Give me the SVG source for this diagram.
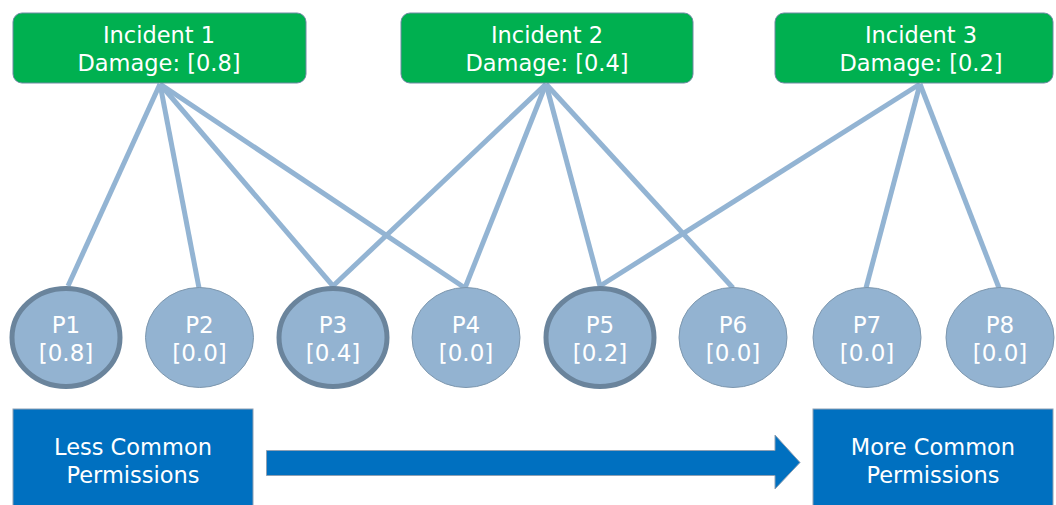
<svg xmlns="http://www.w3.org/2000/svg" width="1056" height="505" viewBox="0 0 1056 505">
<style>
.inc{fill:#00b050;stroke:#6f8aa3;stroke-width:1}
.it{font-family:"DejaVu Sans",sans-serif;font-size:22.5px;fill:#fff;text-anchor:middle}
.pt{font-family:"DejaVu Sans",sans-serif;font-size:23px;fill:#fff;text-anchor:middle}
.p{fill:#93b3d1;stroke:#7d97ae;stroke-width:1}
.pk{fill:#93b3d1;stroke:#6a849c;stroke-width:5}
.ln{stroke:#93b4d3;stroke-width:5;fill:none}
.bx{fill:#0070c0;stroke:#8ea0b4;stroke-width:1}
</style>
<rect width="1056" height="505" fill="#fff"/>
<g id="connectors">
<line class="ln" x1="160" y1="84" x2="68" y2="286"/>
<line class="ln" x1="160" y1="84" x2="199" y2="288"/>
<line class="ln" x1="160" y1="84" x2="333" y2="286"/>
<line class="ln" x1="160" y1="84" x2="465" y2="288"/>
<line class="ln" x1="546" y1="84" x2="333" y2="286"/>
<line class="ln" x1="546" y1="84" x2="465" y2="288"/>
<line class="ln" x1="546" y1="84" x2="600" y2="286"/>
<line class="ln" x1="546" y1="84" x2="733" y2="288"/>
<line class="ln" x1="920" y1="84" x2="600" y2="286"/>
<line class="ln" x1="920" y1="84" x2="866" y2="288"/>
<line class="ln" x1="920" y1="84" x2="999" y2="288"/>
</g>
<g id="incident1"><rect class="inc" x="13" y="13" width="293" height="70" rx="9"/><text class="it" x="159" y="43">Incident 1</text><text class="it" x="159" y="71">Damage: [0.8]</text></g>
<g id="incident2"><rect class="inc" x="401" y="13" width="292" height="70" rx="9"/><text class="it" x="547" y="43">Incident 2</text><text class="it" x="547" y="71">Damage: [0.4]</text></g>
<g id="incident3"><rect class="inc" x="775" y="13" width="278" height="70" rx="9"/><text class="it" x="921" y="43">Incident 3</text><text class="it" x="921" y="71">Damage: [0.2]</text></g>
<g id="p1"><ellipse class="pk" cx="66" cy="337.5" rx="54" ry="49"/><text class="pt" x="66" y="333">P1</text><text class="pt" x="66" y="361">[0.8]</text></g>
<g id="p2"><ellipse class="p" cx="199.5" cy="337.5" rx="54" ry="50"/><text class="pt" x="199.5" y="333">P2</text><text class="pt" x="199.5" y="361">[0.0]</text></g>
<g id="p3"><ellipse class="pk" cx="333" cy="337.5" rx="54" ry="49"/><text class="pt" x="333" y="333">P3</text><text class="pt" x="333" y="361">[0.4]</text></g>
<g id="p4"><ellipse class="p" cx="466" cy="337.5" rx="54" ry="50"/><text class="pt" x="466" y="333">P4</text><text class="pt" x="466" y="361">[0.0]</text></g>
<g id="p5"><ellipse class="pk" cx="600" cy="337.5" rx="54" ry="49"/><text class="pt" x="600" y="333">P5</text><text class="pt" x="600" y="361">[0.2]</text></g>
<g id="p6"><ellipse class="p" cx="733" cy="337.5" rx="54" ry="50"/><text class="pt" x="733" y="333">P6</text><text class="pt" x="733" y="361">[0.0]</text></g>
<g id="p7"><ellipse class="p" cx="867" cy="337.5" rx="54" ry="50"/><text class="pt" x="867" y="333">P7</text><text class="pt" x="867" y="361">[0.0]</text></g>
<g id="p8"><ellipse class="p" cx="1000" cy="337.5" rx="54" ry="50"/><text class="pt" x="1000" y="333">P8</text><text class="pt" x="1000" y="361">[0.0]</text></g>
<g id="less"><rect class="bx" x="13" y="409" width="240" height="100"/><text class="it" x="133" y="455">Less Common</text><text class="it" x="133" y="483">Permissions</text></g>
<g id="more"><rect class="bx" x="813" y="409" width="240" height="100"/><text class="it" x="933" y="455">More Common</text><text class="it" x="933" y="483">Permissions</text></g>
<g id="arrow"><path d="M266.5,450.5 H775 V435 L800,462.5 L775,489 V475.5 H266.5 Z" fill="#0070c0" stroke="#8ea0b4" stroke-width="1"/></g>
</svg>
